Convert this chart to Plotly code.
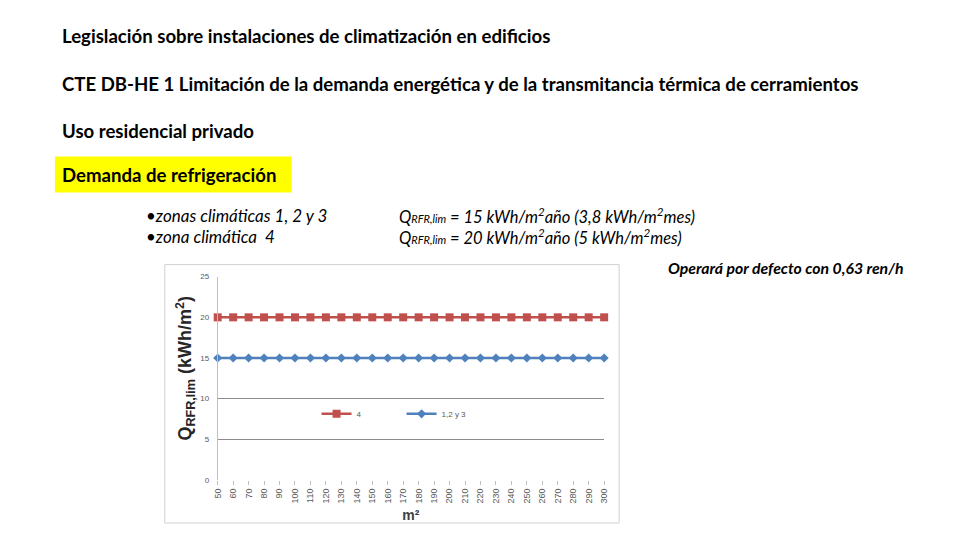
import plotly.graph_objects as go

# ---- data ----
superficie = list(range(50, 301, 10))          # m2
zona_4 = [20] * len(superficie)                # kWh/m2 año
zona_123 = [15] * len(superficie)
y_ticks = [0, 5, 10, 15, 20, 25]

W, H = 960, 540
# page-pixel -> paper (with a small empirical correction of the photographed page)
def px(x): return ((x - 5) / 0.991) / W
def py(y): return 1 - ((y - 4.7) / 0.982) / H

RED = "#C0504D"
BLUE = "#4F81BD"
HEAD_FONT = "Lato, Liberation Sans, Arial"
TEXT_FONT = "Lato, Liberation Sans, Arial"

fig = go.Figure()
fig.add_trace(go.Scatter(
    x=superficie, y=zona_4, name="4", mode="lines+markers",
    line=dict(color=RED, width=2.5),
    marker=dict(symbol="square", size=8, color=RED),
    cliponaxis=False))
fig.add_trace(go.Scatter(
    x=superficie, y=zona_123, name="1,2 y 3", mode="lines+markers",
    line=dict(color=BLUE, width=2.5),
    marker=dict(symbol="diamond", size=7, color=BLUE),
    cliponaxis=False))

fig.update_layout(
    width=W, height=H,
    margin=dict(l=0, r=0, t=0, b=0),
    paper_bgcolor="white", plot_bgcolor="white",
    showlegend=True,
    legend=dict(orientation="h", x=px(317), y=py(414), xanchor="left", yanchor="middle",
                font=dict(size=8, color="#595959", family="Liberation Sans, Arial"),
                entrywidth=40, entrywidthmode="pixels", bgcolor="rgba(0,0,0,0)",
                itemwidth=30),
    xaxis=dict(domain=[px(218), px(605)], range=[50, 300],
               tickmode="array", tickvals=superficie, ticktext=[str(v) for v in superficie],
               tickangle=-90, tickfont=dict(size=9, color="#595959", family="Liberation Sans, Arial"),
               ticks="outside", ticklen=4, tickcolor="#BFBFBF",
               showgrid=False, zeroline=False, showline=False,
               title=dict(text="<b>m²</b>", font=dict(size=14, color="#404040",
                          family="Liberation Sans, Arial"), standoff=7)),
    yaxis=dict(domain=[py(480), py(277)], range=[0, 25],
               tickmode="array", tickvals=y_ticks,
               tickfont=dict(size=8, color="#595959", family="Liberation Sans, Arial"),
               showgrid=True, gridcolor="#8C8C8C", gridwidth=1,
               zeroline=False, showline=True, linecolor="#BFBFBF",
               ticks="", ticklabelstandoff=6),
)

# y-axis title (placed as in the reference, slightly above the axis centre)
fig.add_annotation(text="<b>Q<sub>RFR,lim</sub> (kWh/m<sup>2</sup>)</b>",
                   xref="paper", yref="paper", x=px(186), y=py(368),
                   xanchor="center", yanchor="middle", textangle=-90, showarrow=False,
                   font=dict(size=18, color="#262626", family="Liberation Sans, Arial"))

# chart frame
fig.add_shape(type="rect", xref="paper", yref="paper",
              x0=px(165), x1=px(620), y0=py(523), y1=py(265),
              line=dict(color="#D0D0D0", width=1), layer="below")

# yellow highlight
fig.add_shape(type="rect", xref="paper", yref="paper",
              x0=px(55), x1=px(292), y0=py(193), y1=py(157),
              fillcolor="#FFFF00", line=dict(width=0), layer="below")

def note(text, x, y, size, family=HEAD_FONT, color="black"):
    fig.add_annotation(text=text, xref="paper", yref="paper", x=px(x), y=py(y),
                       xanchor="left", yanchor="middle", showarrow=False,
                       font=dict(size=size, family=family, color=color))

note("<b>Legislación sobre instalaciones de climatización en edificios</b>", 60, 37, 18.6)
note("<b>CTE DB-HE 1 Limitación de la demanda energética y de la transmitancia térmica de cerramientos</b>", 60, 85, 18.6)
note("<b>Uso residencial privado</b>", 60, 132, 18.6)
note("<b>Demanda de refrigeración</b>", 60, 175, 18.6)

note("<i>•zonas climáticas 1, 2 y 3</i>", 144, 216, 17, TEXT_FONT)
note("<i>•zona climática  4</i>", 144, 237, 17, TEXT_FONT)
note("<i>Q<span style='font-size:11px'>RFR,lim</span> = 15 kWh/m<sup>2</sup>año (3,8 kWh/m<sup>2</sup>mes)</i>", 398, 216, 16.5, TEXT_FONT)
note("<i>Q<span style='font-size:11px'>RFR,lim</span> = 20 kWh/m<sup>2</sup>año (5 kWh/m<sup>2</sup>mes)</i>", 398, 237, 16.5, TEXT_FONT)
note("<b><i>Operará por defecto con 0,63 ren/h</i></b>", 667, 268, 15.8, TEXT_FONT)

fig.write_html("out.html", config={"displayModeBar": False},
               post_script="document.body.style.margin='0';document.body.style.padding='0';")
